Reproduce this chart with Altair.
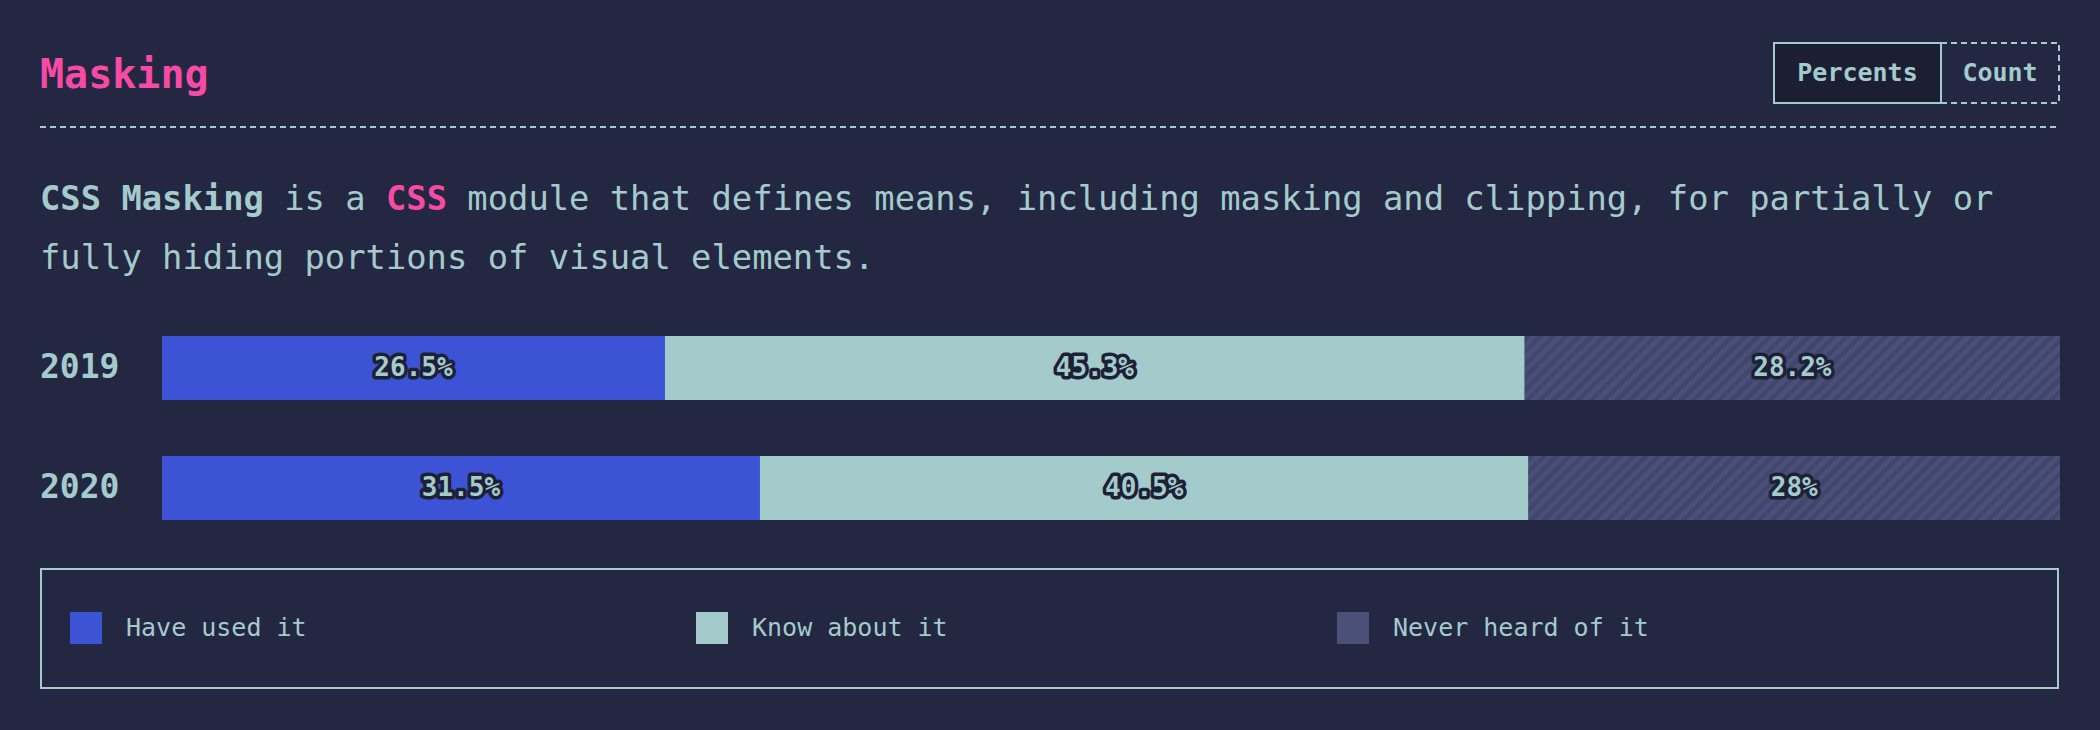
import math
import altair as alt
import pandas as pd

# ---------------- data ----------------
YEARS = ["2019", "2020"]
CATEGORIES = ["Have used it", "Know about it", "Never heard of it"]
VALUES_2019 = [26.5, 45.3, 28.2]
VALUES_2020 = [31.5, 40.5, 28.0]

TITLE = "Masking"
BUTTONS = ["Percents", "Count"]
DESC_SEGMENTS = [
    ("CSS Masking", "strong"),
    (" is a ", "plain"),
    ("CSS", "accent"),
    (" module that defines means, including masking and clipping, for partially or", "plain"),
]
DESC_LINE2 = "fully hiding portions of visual elements."

# ---------------- style ----------------
BG = "#232741"
TEAL = "#a3cbcc"
PINK = "#f64aa6"
BLUE = "#3d53d5"
NEVER = "#4a5078"
STRIPE_A = "#41466c"
STRIPE_B = "#4a4f79"
OUTLINE = "#1e2136"
BTN_FILL = "#1c1f34"
MONO = "DejaVu Sans Mono"

rows = []
for year, vals in zip(YEARS, [VALUES_2019, VALUES_2020]):
    for i, (cat, v) in enumerate(zip(CATEGORIES, vals)):
        rows.append({"year": year, "category": cat, "idx": i, "value": v})
df = pd.DataFrame(rows)
ONE = pd.DataFrame({"k": [0]})

x_scale = alt.Scale(domain=[0, 100], range=[162, 2060], nice=False, zero=False)
y_scale = alt.Scale(domain=YEARS, range=[336, 520], paddingInner=0.4667, paddingOuter=0)

base = (
    alt.Chart(df)
    .transform_stack(stack="value", groupby=["year"], as_=["x0", "x1"],
                     sort=[alt.SortField("idx", order="ascending")])
    .transform_calculate(mid="(datum.x0 + datum.x1) / 2", label="datum.value + '%'")
)

legend = alt.Legend(
    orient="none", legendX=70, legendY=612, direction="horizontal", columns=3,
    columnPadding=389, symbolType="square", symbolSize=1024, symbolStrokeWidth=0,
    symbolOpacity=1, labelFont=MONO, labelFontSize=25, labelColor=TEAL,
    labelOffset=24, labelLimit=1000, title=None, padding=0,
)

bars = base.mark_bar().encode(
    x=alt.X("x0:Q", scale=x_scale, axis=None),
    x2="x1:Q",
    y=alt.Y("year:N", scale=y_scale, axis=None),
    color=alt.Color("category:N", scale=alt.Scale(domain=CATEGORIES, range=[BLUE, TEAL, NEVER]),
                    legend=legend),
)

# diagonal hatching for the "never heard" segment
W, H = 533, 64
F = W + H
s = F / (W * W + H * H)
pf = 9.0 * math.sqrt(2)
stops = []
k = 0
while k * pf < F:
    t0 = k * pf / F
    t1 = min((k * pf + pf / 2) / F, 1)
    t2 = min((k + 1) * pf / F, 1)
    stops += [alt.GradientStop(color=STRIPE_A, offset=t0), alt.GradientStop(color=STRIPE_A, offset=t1),
              alt.GradientStop(color=STRIPE_B, offset=t1), alt.GradientStop(color=STRIPE_B, offset=t2)]
    k += 1
hatch = alt.LinearGradient(gradient="linear", stops=stops, x1=0, y1=0, x2=W * s, y2=H * s)

never = base.transform_filter(alt.datum.category == CATEGORIES[2]).mark_bar(fill=hatch).encode(
    x=alt.X("x0:Q", scale=x_scale, axis=None),
    x2="x1:Q",
    y=alt.Y("year:N", scale=y_scale, axis=None),
)

lab_kw = dict(font=MONO, fontSize=26, fontWeight="bold", align="center", baseline="middle")
labels_bg = base.mark_text(stroke=OUTLINE, strokeWidth=7, strokeJoin="round", fill=OUTLINE, **lab_kw).encode(
    x=alt.X("mid:Q", scale=x_scale, axis=None),
    y=alt.Y("year:N", scale=y_scale, axis=None),
    text="label:N",
)
labels_fg = base.mark_text(fill=TEAL, **lab_kw).encode(
    x=alt.X("mid:Q", scale=x_scale, axis=None),
    y=alt.Y("year:N", scale=y_scale, axis=None),
    text="label:N",
)

year_labels = alt.Chart(pd.DataFrame({"year": YEARS})).mark_text(
    align="left", baseline="middle", font=MONO, fontSize=33, fontWeight="bold", color=TEAL
).encode(x=alt.value(40), y=alt.Y("year:N", scale=y_scale, axis=None), text="year:N")

# ---------------- decorations ----------------
title = alt.Chart(ONE).mark_text(text=TITLE, font=MONO, fontSize=40, fontWeight="bold", color=PINK,
                                 align="left", baseline="alphabetic").encode(x=alt.value(40), y=alt.value(88))

rule = alt.Chart(ONE).mark_rule(color=TEAL, strokeWidth=2, strokeDash=[6, 4]).encode(
    x=alt.value(40), x2=alt.value(2060), y=alt.value(127))

count_box = alt.Chart(ONE).mark_rect(filled=False, stroke=TEAL, strokeWidth=2, strokeDash=[6, 4]).encode(
    x=alt.value(1941), x2=alt.value(2059), y=alt.value(43), y2=alt.value(103))
pct_box = alt.Chart(ONE).mark_rect(fill=BTN_FILL, stroke=TEAL, strokeWidth=2).encode(
    x=alt.value(1774), x2=alt.value(1941), y=alt.value(43), y2=alt.value(103))
btn_kw = dict(font=MONO, fontSize=25, fontWeight="bold", color=TEAL, align="center", baseline="middle")
pct_text = alt.Chart(ONE).mark_text(text=BUTTONS[0], **btn_kw).encode(x=alt.value(1857.5), y=alt.value(73))
count_text = alt.Chart(ONE).mark_text(text=BUTTONS[1], **btn_kw).encode(x=alt.value(2000), y=alt.value(73))

DESC_SIZE = 33.8
cw = DESC_SIZE * 0.60205
desc_layers = []
col = 0
for seg, style in DESC_SEGMENTS:
    stripped = seg.lstrip()
    lead = len(seg) - len(stripped)
    xpos = 40 + (col + lead) * cw
    color = PINK if style == "accent" else TEAL
    weight = "bold" if style in ("strong", "accent") else "normal"
    desc_layers.append(
        alt.Chart(ONE).mark_text(text=stripped.rstrip(), font=MONO, fontSize=DESC_SIZE, fontWeight=weight,
                                 color=color, align="left", baseline="alphabetic")
        .encode(x=alt.value(xpos), y=alt.value(210))
    )
    col += len(seg)
desc_layers.append(
    alt.Chart(ONE).mark_text(text=DESC_LINE2, font=MONO, fontSize=DESC_SIZE, fontWeight="normal",
                             color=TEAL, align="left", baseline="alphabetic")
    .encode(x=alt.value(40), y=alt.value(269))
)

legend_box = alt.Chart(ONE).mark_rect(filled=False, stroke=TEAL, strokeWidth=2).encode(
    x=alt.value(41), x2=alt.value(2058), y=alt.value(569), y2=alt.value(688))

chart = alt.layer(
    title, rule, count_box, pct_box, pct_text, count_text, *desc_layers,
    bars, never, labels_bg, labels_fg, year_labels, legend_box,
).properties(
    width=2100, height=730,
    autosize=alt.AutoSizeParams(type="none"),
    padding={"left": 0, "top": 0, "right": 0, "bottom": 0},
    background=BG,
).configure_view(stroke=None)

chart.save("out.html", embed_options={"renderer": "svg", "actions": False})
